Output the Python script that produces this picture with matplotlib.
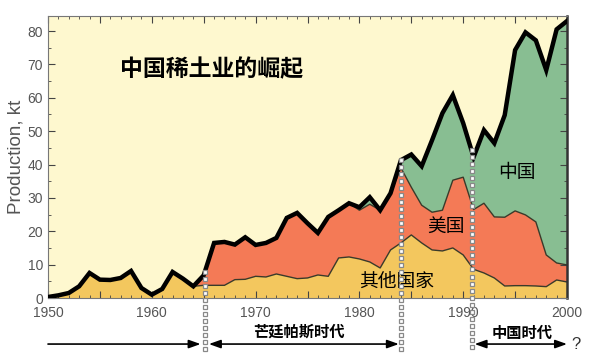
import numpy as np
import matplotlib
matplotlib.use("Agg")
import matplotlib.pyplot as plt
from matplotlib.ticker import MultipleLocator, FuncFormatter

plt.rcParams['font.family'] = ['Liberation Sans', 'Noto Sans CJK SC', 'DejaVu Sans']

# rare earth production by region, kt
years = list(range(1950, 2001))
other = [0.3, 0.8, 1.5, 3.5, 7.5, 5.5, 5.4, 6.0, 8.1, 3.0,
         1.0, 2.7, 7.8, 5.8, 3.5, 3.8, 3.8, 3.8, 5.5, 5.6,
         6.5, 6.3, 7.2, 6.5, 5.8, 6.0, 6.9, 6.5, 12.0, 12.3,
         11.7, 10.8, 9.0, 14.4, 16.5, 18.9, 16.5, 14.4, 14.1, 15.0,
         12.9, 8.6, 7.5, 6.0, 3.6, 3.7, 3.7, 3.6, 3.4, 5.4, 4.8]
usa = [0, 0, 0, 0, 0, 0, 0, 0, 0, 0,
       0, 0, 0, 0, 0, 3.0, 12.7, 13.0, 10.5, 12.6,
       9.4, 10.2, 10.8, 17.5, 19.7, 16.4, 12.6, 17.8, 14.3, 16.1,
       14.6, 17.3, 17.3, 17.0, 22.5, 14.3, 11.3, 11.3, 12.2, 20.3,
       23.3, 17.9, 20.9, 18.3, 20.6, 22.4, 21.2, 19.2, 9.5, 5.1, 5.1]
china = [0] * 30 + [0.9, 2.1, 0, 0, 2.3, 9.8, 11.7, 21.6, 29.1, 25.5,
                    16.2, 15.7, 21.9, 22.1, 30.6, 48.2, 54.7, 54.4, 55.4, 70.0, 73.1]

# era boundaries (year)
era_marks = [1965.1, 1984.0, 1990.8]

x = np.array(years)
o = np.array(other)
u = np.array(usa)
c = np.array(china)
total = o + u + c

fig = plt.figure(figsize=(5.89, 3.64), dpi=100)
ax = fig.add_axes([48/589, 1 - 298/364, 519/589, 282/364])
ax.set_facecolor('#FEF8CF')

ax.stackplot(x, o, u, c, colors=['#F3C75E', '#F47A56', '#88BE92'], linewidth=0)
ax.plot(x, o, color='#3a3a2a', lw=1.0)
ax.plot(x, o + u, color='#3a3a2a', lw=1.0)
ax.plot(x, total, color='black', lw=3.2, solid_joinstyle='miter', zorder=5)

ax.set_xlim(1950, 2000)
ax.set_ylim(0, 84.5)
ax.xaxis.set_major_locator(MultipleLocator(5))
ax.xaxis.set_minor_locator(MultipleLocator(1))
ax.xaxis.set_major_formatter(FuncFormatter(lambda v, p: f"{v:.0f}" if round(v) % 10 == 0 else ""))
ax.yaxis.set_major_locator(MultipleLocator(10))
ax.yaxis.set_minor_locator(MultipleLocator(5))
ax.tick_params(which='both', direction='in', top=True, right=True, color='#444',
               labelsize=10, labelcolor='#555')
ax.tick_params(which='major', length=5)
ax.tick_params(which='minor', length=2.5)
ax.tick_params(axis='x', pad=6)
for s in ['left', 'bottom', 'top']:
    ax.spines[s].set_color('#777')
ax.spines['right'].set_color('#333')
ax.spines['right'].set_linewidth(1.8)
ax.set_ylabel('Production, kt', fontsize=13.5, color='#555', labelpad=2)

cjk = ['Noto Sans CJK SC', 'DejaVu Sans']
ax.text(1956.9, 68.3, '中国稀土业的崛起', fontsize=16.5, fontweight='bold', family=cjk,
        ha='left', va='center')
ax.text(1995.2, 37.7, '中国', fontsize=13.5, family=cjk, ha='center', va='center', zorder=6)
ax.text(1988.3, 21.6, '美国', fontsize=13.5, family=cjk, ha='center', va='center', zorder=6)
ax.text(1983.6, 5.1, '其他国家', fontsize=13.5, family=cjk, ha='center', va='center', zorder=6)

# dotted era boundaries
for yr in era_marks:
    top = np.interp(yr, x, total)
    ys = np.arange(top, -15.5, -2.1)
    ax.plot(np.full_like(ys, yr), ys, ls='none', marker='s', ms=3.0, mfc='white',
            mec='#888', mew=0.9, clip_on=False, zorder=7)

# era arrows
ay = -13.8
arr = dict(arrowstyle='-|>,head_width=0.25,head_length=0.7', color='black', lw=1.2,
           shrinkA=0, shrinkB=0)
arr2 = dict(arrowstyle='<|-|>,head_width=0.25,head_length=0.7', color='black', lw=1.2,
            shrinkA=0, shrinkB=0)
ax.annotate('', xy=(era_marks[0] - 0.4, ay), xytext=(1950, ay), arrowprops=arr,
            annotation_clip=False)
ax.annotate('', xy=(era_marks[1] - 0.2, ay), xytext=(era_marks[0] + 0.4, ay), arrowprops=arr2,
            annotation_clip=False)
ax.annotate('', xy=(2000, ay), xytext=(era_marks[2] + 0.3, ay), arrowprops=arr2,
            annotation_clip=False)
ax.text(2000.9, ay, '?', fontsize=12, color='#333', ha='center', va='center', clip_on=False)
ax.text(1974.2, -10.2, '芒廷帕斯时代', fontsize=11, fontweight='bold', family=cjk,
        ha='center', va='center', clip_on=False)
ax.text(1995.7, -10.5, '中国时代', fontsize=11, fontweight='bold', family=cjk,
        ha='center', va='center', clip_on=False)

fig.savefig('out.png', dpi=100)
